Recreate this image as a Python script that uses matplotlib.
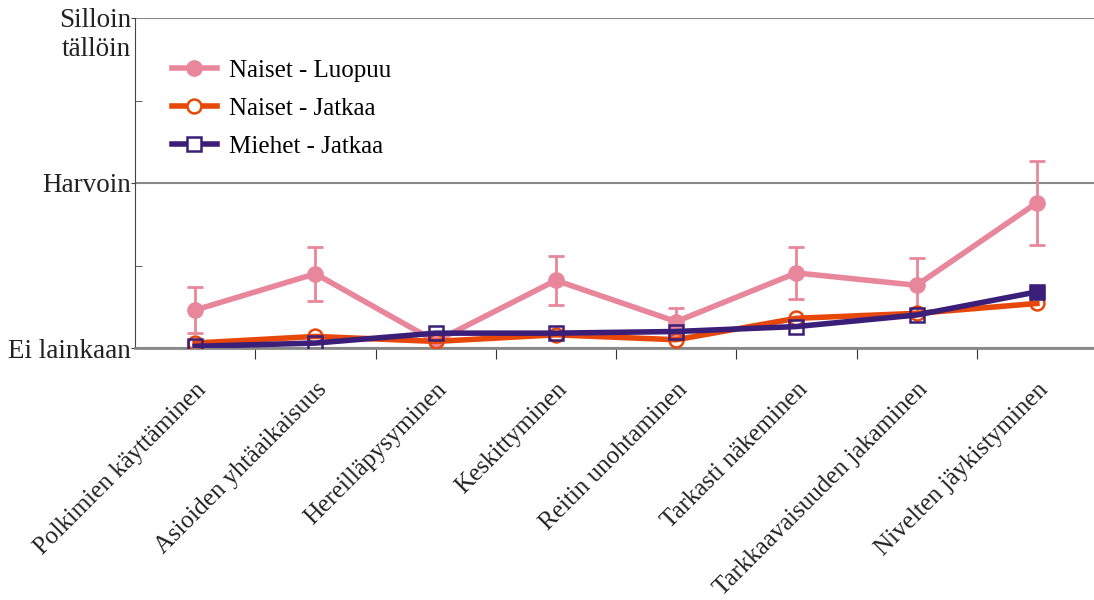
import matplotlib.pyplot as plt
import matplotlib.transforms as mtransforms
from matplotlib.lines import Line2D

plt.rcParams['font.family'] = ['Liberation Serif', 'DejaVu Serif']

categories = ['Polkimien käyttäminen', 'Asioiden yhtäaikaisuus', 'Hereilläpysyminen',
              'Keskittyminen', 'Reitin unohtaminen', 'Tarkasti näkeminen',
              'Tarkkaavaisuuden jakaminen', 'Nivelten jäykistyminen']
naiset_luopuu = [0.23, 0.45, 0.04, 0.41, 0.16, 0.455, 0.38, 0.88]
naiset_luopuu_err = [0.14, 0.165, float('nan'), 0.15, 0.08, 0.16, 0.165, 0.255]
naiset_jatkaa = [0.03, 0.07, 0.04, 0.08, 0.05, 0.18, 0.21, 0.27]
miehet_jatkaa = [0.01, 0.03, 0.09, 0.09, 0.10, 0.13, 0.20, 0.34]
y_labels = ['Ei lainkaan', 'Harvoin', 'Silloin\ntällöin']

pink = '#E8879B'
orange = '#E8470A'
purple = '#3B1E78'

fig = plt.figure(figsize=(10.94, 6), dpi=100)
ax = fig.add_axes([135 / 1094, 1 - 348 / 600, 962 / 1094, 330 / 600])
x = list(range(len(categories)))

ax.errorbar(x, naiset_luopuu, yerr=naiset_luopuu_err, color=pink, lw=4, marker='o',
            ms=11, elinewidth=2, capsize=6, capthick=2, zorder=3)
ax.plot(x, naiset_jatkaa, color=orange, lw=4, marker='o', ms=10, mfc='none',
        mew=1.8, zorder=4)
ax.plot(x, miehet_jatkaa, color=purple, lw=4, marker='s', ms=10, mfc='none',
        mew=1.8, zorder=5)
ax.plot(x[-1], miehet_jatkaa[-1], color=purple, marker='s', ms=10, ls='none', zorder=6)

handles = [
    Line2D([], [], color=pink, lw=4, marker='o', ms=11),
    Line2D([], [], color=orange, lw=4, marker='o', ms=10, mfc='white', mew=1.8),
    Line2D([], [], color=purple, lw=4, marker='s', ms=10, mfc='white', mew=1.8),
]
ax.legend(handles, ['Naiset - Luopuu', 'Naiset - Jatkaa', 'Miehet - Jatkaa'],
          loc='upper left', bbox_to_anchor=(0.015, 0.943), frameon=False, fontsize=18,
          handlelength=1.8, labelspacing=0.62, handletextpad=0.5)

ax.set_xlim(-0.5, 7.5)
ax.set_ylim(0, 2)
ax.set_yticks([0, 1, 2])
ax.set_yticklabels(y_labels, fontsize=19.5, color='#222222')
ax.set_yticks([0.5, 1.5], minor=True)
ax.tick_params(axis='y', which='major', direction='out', length=3, color='#444444', pad=0)
ax.tick_params(axis='y', which='minor', direction='in', length=5, color='#444444')
top = ax.get_yticklabels()[2]
top.set_verticalalignment('top')
top.set_transform(top.get_transform() + mtransforms.ScaledTranslation(0, 7 / 72, fig.dpi_scale_trans))

ax.set_xticks([i + 0.5 for i in x[:-1]])
ax.set_xticklabels([])
ax.set_xticks(x, minor=True)
ax.set_xticklabels(categories, minor=True, rotation=45, ha='right', rotation_mode='anchor',
                   fontsize=18, color='#222222')
ax.tick_params(axis='x', which='major', direction='out', length=8, color='#333333')
ax.tick_params(axis='x', which='minor', length=0, pad=22)

ax.yaxis.grid(True, which='major', color='#888888', lw=1.5)
ax.set_axisbelow(True)
for s in ['top', 'right']:
    ax.spines[s].set_visible(False)
ax.spines['left'].set_color('#444444')
ax.spines['bottom'].set_color('#888888')
ax.spines['bottom'].set_linewidth(2)

fig.savefig('out.png', dpi=100)
